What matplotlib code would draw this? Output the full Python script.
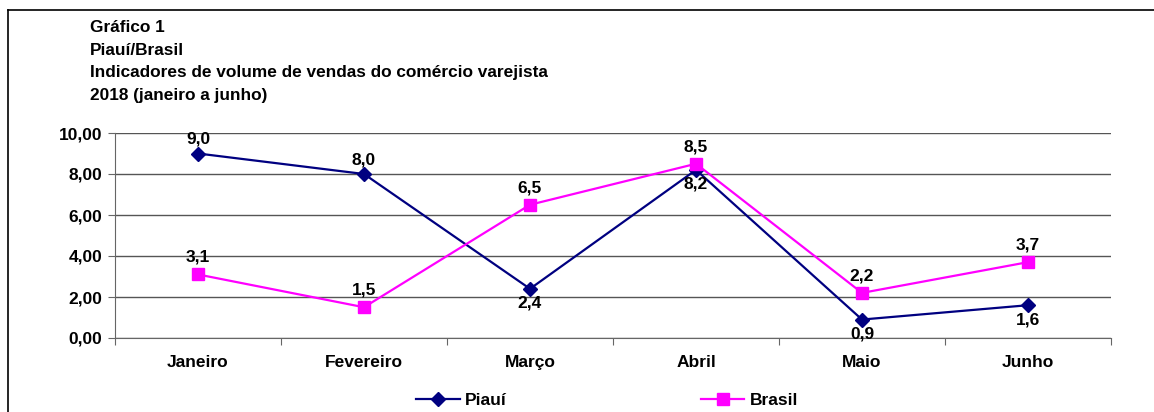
import matplotlib.pyplot as plt
from matplotlib.lines import Line2D

plt.rcParams['font.family'] = ['Liberation Sans', 'DejaVu Sans']
plt.rcParams['font.weight'] = 'bold'

meses = ['Janeiro', 'Fevereiro', 'Março', 'Abril', 'Maio', 'Junho']
piaui = [9.0, 8.0, 2.4, 8.2, 0.9, 1.6]
brasil = [3.1, 1.5, 6.5, 8.5, 2.2, 3.7]
yticks = [0, 2, 4, 6, 8, 10]

titulo = ['Gráfico 1', 'Piauí/Brasil',
          'Indicadores de volume de vendas do comércio varejista',
          '2018 (janeiro a junho)']

# rotulo do Piauí: True = acima do ponto, False = abaixo
piaui_acima = [True, True, False, False, False, False]

FS = 12.5

fig = plt.figure(figsize=(11.54, 4.12), dpi=100)
ax = fig.add_axes([115 / 1154, 1 - 338 / 412, 996 / 1154, 205 / 412])

x = range(len(meses))
ax.plot(x, piaui, color='#000080', lw=1.6, marker='D', ms=7, zorder=3)
ax.plot(x, brasil, color='#FF00FF', lw=1.6, marker='s', ms=9, zorder=4)

for i, v in enumerate(piaui):
    txt = f'{v:.1f}'.replace('.', ',')
    if piaui_acima[i]:
        ax.annotate(txt, (i, v), xytext=(0, 5), textcoords='offset points',
                    ha='center', va='bottom', fontsize=FS)
    else:
        ax.annotate(txt, (i, v), xytext=(0, -5), textcoords='offset points',
                    ha='center', va='top', fontsize=FS)
for i, v in enumerate(brasil):
    ax.annotate(f'{v:.1f}'.replace('.', ','), (i, v), xytext=(0, 7),
                textcoords='offset points', ha='center', va='bottom', fontsize=FS)

ax.set_xlim(-0.5, len(meses) - 0.5)
ax.set_ylim(0, 10)
ax.set_yticks(yticks)
ax.set_yticklabels([f'{t:.2f}'.replace('.', ',') for t in yticks], fontsize=FS)
ax.set_xticks([i + 0.5 for i in range(-1, len(meses))])
ax.set_xticklabels([])
ax.set_xticks(list(x), minor=True)
ax.set_xticklabels(meses, minor=True, fontsize=FS)
ax.tick_params(axis='x', which='minor', length=0, pad=12)
ax.tick_params(axis='x', which='major', direction='out', length=5, color='#666666')
ax.tick_params(axis='y', direction='out', length=5, color='#666666', pad=4)
ax.yaxis.grid(True, color='#555555', lw=1)
ax.set_axisbelow(True)
for s in ['top', 'right']:
    ax.spines[s].set_visible(False)
for s in ['left', 'bottom']:
    ax.spines[s].set_color('#666666')

for k, linha in enumerate(titulo):
    fig.text(90 / 1154, 1 - (28 + k * 22.5) / 412, linha, fontsize=12.4, va='center')

handles = [Line2D([], [], color='#000080', lw=1.6, marker='D', ms=7),
           Line2D([], [], color='#FF00FF', lw=1.6, marker='s', ms=9)]
fig.legend(handles, ['Piauí', 'Brasil'], loc='center', bbox_to_anchor=(607 / 1154, 1 - 400 / 412),
           ncol=2, frameon=False, fontsize=FS, columnspacing=11.2, handlelength=2.5,
           handletextpad=0.3)

# moldura
fig.add_artist(Line2D([8 / 1154, 8 / 1154], [0, 1 - 10 / 412], color='black', lw=1.2))
fig.add_artist(Line2D([8 / 1154, 1], [1 - 10 / 412, 1 - 10 / 412], color='black', lw=1.2))

fig.savefig('out.png', dpi=100)
